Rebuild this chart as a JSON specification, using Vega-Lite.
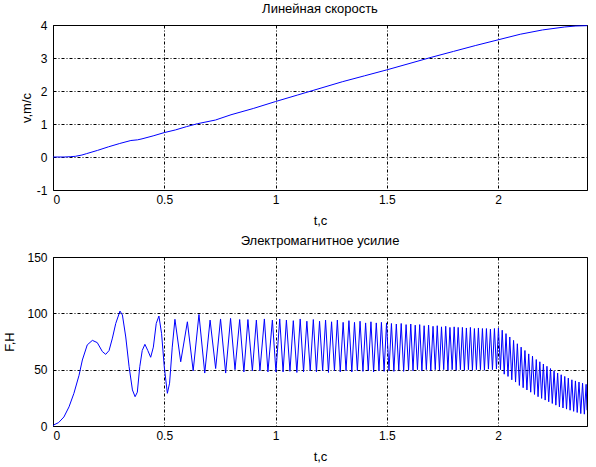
{
  "$schema": "https://vega.github.io/schema/vega-lite/v6.json",
  "background": "white",
  "padding": {"left": 3, "top": 2, "right": 8, "bottom": 4},
  "spacing": 6,
  "config": {
    "font": "Liberation Sans",
    "view": {"stroke": "black", "strokeWidth": 1},
    "axis": {
      "grid": true, "gridColor": "black", "gridDash": [3, 2, 1, 2], "gridOpacity": 1, "gridWidth": 1,
      "domain": false, "ticks": false,
      "labelFont": "Liberation Sans", "labelFontSize": 12, "labelColor": "black",
      "titleFont": "Liberation Sans", "titleFontSize": 13, "titleFontWeight": "normal", "titleColor": "black"
    },
    "title": {"font": "Liberation Sans", "fontSize": 13, "fontWeight": "normal", "color": "black", "offset": 3}
  },
  "datasets": {
    "vel": [
      {"t": 0, "v": 0}, {"t": 0.05, "v": 0}, {"t": 0.08, "v": 0.01}, {"t": 0.1, "v": 0.02}, {"t": 0.13, "v": 0.06},
      {"t": 0.15, "v": 0.1}, {"t": 0.2, "v": 0.2}, {"t": 0.25, "v": 0.31}, {"t": 0.3, "v": 0.41}, {"t": 0.35, "v": 0.5},
      {"t": 0.38, "v": 0.52}, {"t": 0.4, "v": 0.55}, {"t": 0.45, "v": 0.64}, {"t": 0.5, "v": 0.74}, {"t": 0.55, "v": 0.82},
      {"t": 0.6, "v": 0.92}, {"t": 0.65, "v": 1.01}, {"t": 0.73, "v": 1.12}, {"t": 0.8, "v": 1.28}, {"t": 0.9, "v": 1.47},
      {"t": 1.0, "v": 1.68}, {"t": 1.1, "v": 1.88}, {"t": 1.2, "v": 2.08}, {"t": 1.3, "v": 2.28}, {"t": 1.4, "v": 2.46},
      {"t": 1.5, "v": 2.64}, {"t": 1.6, "v": 2.83}, {"t": 1.7, "v": 3.02}, {"t": 1.8, "v": 3.2}, {"t": 1.9, "v": 3.38},
      {"t": 2.0, "v": 3.55}, {"t": 2.1, "v": 3.72}, {"t": 2.2, "v": 3.85}, {"t": 2.3, "v": 3.94}, {"t": 2.35, "v": 3.97},
      {"t": 2.4, "v": 3.98}
    ],
    "force": [
      {"t": 0, "F": 0}, {"t": 0.004, "F": 1}, {"t": 0.025, "F": 3}, {"t": 0.049, "F": 8}, {"t": 0.072, "F": 17},
      {"t": 0.094, "F": 29}, {"t": 0.117, "F": 45}, {"t": 0.132, "F": 58.6}, {"t": 0.154, "F": 72}, {"t": 0.177, "F": 76},
      {"t": 0.199, "F": 74}, {"t": 0.222, "F": 66}, {"t": 0.237, "F": 63.6}, {"t": 0.252, "F": 67}, {"t": 0.267, "F": 78},
      {"t": 0.282, "F": 91}, {"t": 0.301, "F": 102}, {"t": 0.312, "F": 98.5}, {"t": 0.327, "F": 79}, {"t": 0.342, "F": 52.6},
      {"t": 0.357, "F": 32}, {"t": 0.369, "F": 26}, {"t": 0.379, "F": 30}, {"t": 0.39, "F": 52.6}, {"t": 0.401, "F": 67},
      {"t": 0.413, "F": 72.5}, {"t": 0.426, "F": 67}, {"t": 0.439, "F": 61}, {"t": 0.451, "F": 70}, {"t": 0.464, "F": 91},
      {"t": 0.476, "F": 97.6}, {"t": 0.488, "F": 82}, {"t": 0.5, "F": 52.6}, {"t": 0.514, "F": 29}, {"t": 0.524, "F": 38},
      {"t": 0.536, "F": 70}, {"t": 0.548, "F": 94.7},
      {"t": 0.574, "F": 57}, {"t": 0.604, "F": 92.5}, {"t": 0.63, "F": 49}, {"t": 0.656, "F": 99}, {"t": 0.682, "F": 47},
      {"t": 0.706, "F": 94}, {"t": 0.731, "F": 51}, {"t": 0.753, "F": 95}, {"t": 0.776, "F": 47}, {"t": 0.798, "F": 95.5},
      {"t": 0.818, "F": 50}, {"t": 0.839, "F": 94.5}, {"t": 0.858, "F": 48}, {"t": 0.876, "F": 94.5}, {"t": 0.896, "F": 49},
      {"t": 0.914, "F": 94}, {"t": 0.93, "F": 49}, {"t": 0.95, "F": 95}, {"t": 0.966, "F": 48}, {"t": 0.986, "F": 94},
      {"t": 1.002, "F": 48}, {"t": 1.019, "F": 95}, {"t": 1.034, "F": 48}, {"t": 1.049, "F": 94}, {"t": 1.065, "F": 48.5},
      {"t": 1.08, "F": 93.5}, {"t": 1.096, "F": 47.5}, {"t": 1.111, "F": 95}, {"t": 1.126, "F": 48}, {"t": 1.141, "F": 93},
      {"t": 1.156, "F": 49}, {"t": 1.17, "F": 94.5}, {"t": 1.184, "F": 48}, {"t": 1.198, "F": 93}, {"t": 1.212, "F": 49},
      {"t": 1.225, "F": 94}, {"t": 1.238, "F": 47.5}, {"t": 1.252, "F": 92.5}, {"t": 1.265, "F": 49}, {"t": 1.278, "F": 94},
      {"t": 1.291, "F": 48}, {"t": 1.304, "F": 92}, {"t": 1.317, "F": 49}, {"t": 1.33, "F": 93.5}, {"t": 1.343, "F": 48},
      {"t": 1.355, "F": 92}, {"t": 1.368, "F": 49}, {"t": 1.38, "F": 93}, {"t": 1.393, "F": 48.5}, {"t": 1.405, "F": 91.5},
      {"t": 1.417, "F": 49}, {"t": 1.429, "F": 92.5}, {"t": 1.441, "F": 48}, {"t": 1.453, "F": 91.5}, {"t": 1.465, "F": 49},
      {"t": 1.476, "F": 92}, {"t": 1.488, "F": 48.5}, {"t": 1.499, "F": 91.5}, {"t": 1.51, "F": 49}, {"t": 1.521, "F": 91},
      {"t": 1.532, "F": 48.5}, {"t": 1.543, "F": 90.5}, {"t": 1.554, "F": 49.5}, {"t": 1.565, "F": 91}, {"t": 1.576, "F": 48.5},
      {"t": 1.587, "F": 90}, {"t": 1.598, "F": 49.5}, {"t": 1.608, "F": 90.5}, {"t": 1.618, "F": 49}, {"t": 1.628, "F": 89.5},
      {"t": 1.638, "F": 50}, {"t": 1.648, "F": 90}, {"t": 1.658, "F": 49}, {"t": 1.668, "F": 89}, {"t": 1.678, "F": 50},
      {"t": 1.688, "F": 89.5}, {"t": 1.698, "F": 49}, {"t": 1.708, "F": 88.5}, {"t": 1.718, "F": 50}, {"t": 1.727, "F": 89},
      {"t": 1.737, "F": 49.5}, {"t": 1.746, "F": 88}, {"t": 1.756, "F": 50}, {"t": 1.765, "F": 88.5}, {"t": 1.775, "F": 49.5},
      {"t": 1.784, "F": 87.5}, {"t": 1.794, "F": 50}, {"t": 1.803, "F": 88}, {"t": 1.812, "F": 49.5}, {"t": 1.821, "F": 87.5},
      {"t": 1.831, "F": 50}, {"t": 1.84, "F": 87.5}, {"t": 1.849, "F": 49.5}, {"t": 1.858, "F": 87}, {"t": 1.867, "F": 50},
      {"t": 1.876, "F": 87.5}, {"t": 1.885, "F": 49.5}, {"t": 1.894, "F": 86.5}, {"t": 1.903, "F": 50}, {"t": 1.912, "F": 87},
      {"t": 1.921, "F": 50}, {"t": 1.93, "F": 86.5}, {"t": 1.939, "F": 49.5}, {"t": 1.948, "F": 86.5}, {"t": 1.957, "F": 50.5},
      {"t": 1.966, "F": 86}, {"t": 1.975, "F": 50}, {"t": 1.984, "F": 86.5}, {"t": 1.993, "F": 50.5}, {"t": 2.002, "F": 87},
      {"t": 2.011, "F": 50}, {"t": 2.019, "F": 85}, {"t": 2.028, "F": 46}, {"t": 2.036, "F": 82}, {"t": 2.045, "F": 44},
      {"t": 2.053, "F": 79}, {"t": 2.062, "F": 41}, {"t": 2.07, "F": 76}, {"t": 2.079, "F": 39}, {"t": 2.087, "F": 73},
      {"t": 2.096, "F": 36}, {"t": 2.104, "F": 70}, {"t": 2.113, "F": 34}, {"t": 2.121, "F": 67}, {"t": 2.13, "F": 32},
      {"t": 2.138, "F": 64}, {"t": 2.147, "F": 30}, {"t": 2.155, "F": 62}, {"t": 2.164, "F": 28}, {"t": 2.172, "F": 59},
      {"t": 2.18, "F": 26}, {"t": 2.188, "F": 57}, {"t": 2.196, "F": 24.5}, {"t": 2.204, "F": 55}, {"t": 2.212, "F": 23},
      {"t": 2.22, "F": 53}, {"t": 2.228, "F": 21.5}, {"t": 2.236, "F": 51}, {"t": 2.244, "F": 20}, {"t": 2.252, "F": 49},
      {"t": 2.26, "F": 18.5}, {"t": 2.268, "F": 47}, {"t": 2.276, "F": 17}, {"t": 2.284, "F": 45.5}, {"t": 2.292, "F": 16},
      {"t": 2.3, "F": 44}, {"t": 2.308, "F": 15}, {"t": 2.316, "F": 42.5}, {"t": 2.324, "F": 14}, {"t": 2.332, "F": 41},
      {"t": 2.34, "F": 13}, {"t": 2.348, "F": 40}, {"t": 2.356, "F": 12}, {"t": 2.364, "F": 39}, {"t": 2.372, "F": 11},
      {"t": 2.38, "F": 38}, {"t": 2.388, "F": 10.5}, {"t": 2.396, "F": 37}, {"t": 2.4, "F": 14}
    ]
  },
  "vconcat": [
    {
      "title": "Линейная скорость",
      "width": 534,
      "height": 165,
      "data": {"name": "vel"},
      "mark": {"type": "line", "color": "#0000ff", "strokeWidth": 1, "clip": true},
      "encoding": {
        "x": {"field": "t", "type": "quantitative", "scale": {"domain": [0, 2.4], "nice": false, "zero": false},
              "axis": {"title": "t,c", "values": [0, 0.5, 1, 1.5, 2], "format": "~g", "labelPadding": 4, "titlePadding": 9}},
        "y": {"field": "v", "type": "quantitative", "scale": {"domain": [-1, 4], "nice": false},
              "axis": {"title": "v,m/c", "values": [-1, 0, 1, 2, 3, 4], "labelExpr": "datum.value + ''", "labelPadding": 6, "titlePadding": 3}}
      }
    },
    {
      "title": "Электромагнитное усилие",
      "width": 534,
      "height": 169,
      "data": {"name": "force"},
      "mark": {"type": "line", "color": "#0000ff", "strokeWidth": 1, "clip": true},
      "encoding": {
        "x": {"field": "t", "type": "quantitative", "scale": {"domain": [0, 2.4], "nice": false, "zero": false},
              "axis": {"title": "t,c", "values": [0, 0.5, 1, 1.5, 2], "format": "~g", "labelPadding": 4, "titlePadding": 9}},
        "y": {"field": "F", "type": "quantitative", "scale": {"domain": [0, 150], "nice": false},
              "axis": {"title": "F,H", "values": [0, 50, 100, 150], "labelPadding": 6, "titlePadding": 10}}
      }
    }
  ]
}
